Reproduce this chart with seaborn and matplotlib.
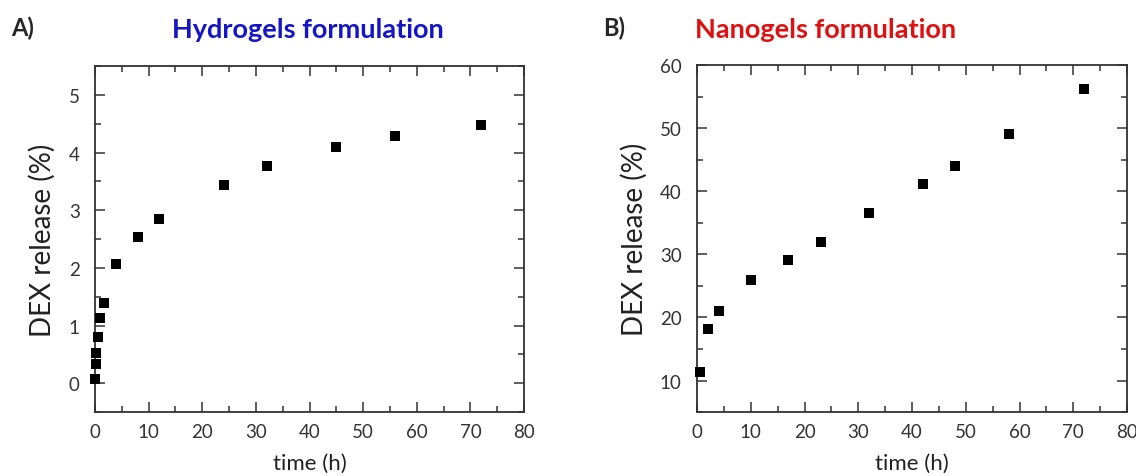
import pandas as pd
import matplotlib.pyplot as plt
import seaborn as sns
from matplotlib.ticker import MultipleLocator

# hydrogels formulation (panel A)
hydro_time = [0.05, 0.17, 0.25, 0.5, 1, 1.75, 4, 8, 12, 24, 32, 45, 56, 72]
hydro_release = [0.07, 0.34, 0.52, 0.81, 1.13, 1.40, 2.07, 2.54, 2.85, 3.44, 3.77, 4.09, 4.29, 4.48]

# nanogels formulation (panel B)
nano_time = [0.5, 2, 4, 10, 17, 23, 32, 42, 48, 58, 72]
nano_release = [11.4, 18.2, 21.1, 25.9, 29.1, 32.0, 36.5, 41.1, 44.0, 49.1, 56.2]

hydro = pd.DataFrame({'time': hydro_time, 'release': hydro_release})
nano = pd.DataFrame({'time': nano_time, 'release': nano_release})

sns.set_theme(style="ticks")
plt.rcParams['font.family'] = ['Lato', 'DejaVu Sans']

fig = plt.figure(figsize=(11.36, 4.77), dpi=100)
ax1 = fig.add_axes([0.0836, 0.134, 0.3777, 0.7254])
ax2 = fig.add_axes([0.6136, 0.134, 0.3785, 0.7275])

panels = [
    (ax1, hydro, (-0.5, 5.5), 1, 0.5),
    (ax2, nano, (5, 60), 10, 5),
]

for ax, df, ylim, major, minor in panels:
    sns.scatterplot(data=df, x='time', y='release', marker='s', s=58,
                    color='black', edgecolor='black', linewidth=0, ax=ax,
                    clip_on=False, zorder=5)
    ax.set_xlim(0, 80)
    ax.set_ylim(*ylim)
    ax.xaxis.set_major_locator(MultipleLocator(10))
    ax.xaxis.set_minor_locator(MultipleLocator(5))
    ax.yaxis.set_major_locator(MultipleLocator(major))
    ax.yaxis.set_minor_locator(MultipleLocator(minor))
    ax.tick_params(which='both', direction='in', top=True, right=True,
                   colors='#333333', labelcolor='#333333', width=1.1)
    ax.tick_params(which='major', length=7, labelsize=13.5)
    ax.tick_params(axis='y', which='major', pad=11)
    ax.tick_params(axis='x', which='major', pad=8)
    ax.tick_params(which='minor', length=4)
    for sp in ax.spines.values():
        sp.set_visible(True)
        sp.set_color('#333333')
        sp.set_linewidth(1.3)
    ax.set_xlabel('time (h)', fontsize=16, color='#222222', labelpad=9)
    ax.set_ylabel('DEX release (%)', fontsize=20, color='#222222', labelpad=9)

fig.text(0.271, 0.937, 'Hydrogels formulation', color='#1414c8', fontsize=19.5,
         fontweight='bold', ha='center', va='center')
fig.text(0.727, 0.937, 'Nanogels formulation', color='#e01010', fontsize=19.5,
         fontweight='bold', ha='center', va='center')
fig.text(0.010, 0.94, 'A)', fontsize=17, fontweight='bold', ha='left', va='center')
fig.text(0.531, 0.94, 'B)', fontsize=17, fontweight='bold', ha='left', va='center')

plt.savefig('out.png', dpi=100)
